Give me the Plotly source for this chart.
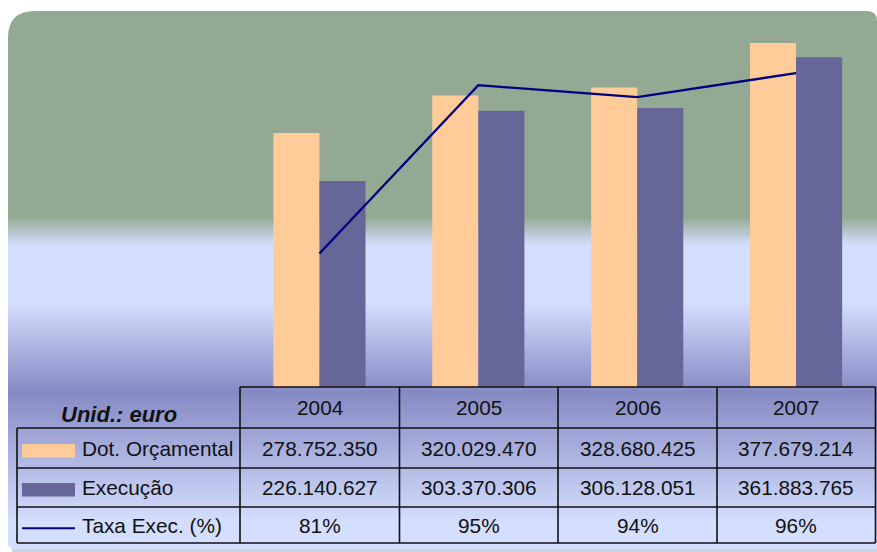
import plotly.graph_objects as go

# ---- data -------------------------------------------------------------
years = ["2004", "2005", "2006", "2007"]
dotacao = [278752350, 320029470, 328680425, 377679214]   # Dot. Orçamental (euro)
execucao = [226140627, 303370306, 306128051, 361883765]  # Execução (euro)
taxa = [81, 95, 94, 96]                                   # Taxa Exec. (%)
row_labels = ["Dot. Orçamental", "Execução", "Taxa Exec. (%)"]
unit_label = "Unid.: euro"

# ---- style ------------------------------------------------------------
ORANGE = "#FFCC99"
PURPLE = "#666699"
NAVY = "#000080"
GREEN = (148, 169, 147)
LAV = (212, 222, 254)
DARK = (133, 138, 195)
FONT = "Liberation Sans, Arial, sans-serif"
W, H = 877, 552


def px(x):
    return x / W


def py(y):
    return 1 - y / H


def rgb(c):
    return "rgb(%d,%d,%d)" % tuple(int(round(v)) for v in c)


def mix(a, b, t):
    return tuple(a[i] + (b[i] - a[i]) * t for i in range(3))


fig = go.Figure()

fig.add_trace(go.Bar(x=years, y=dotacao, name=row_labels[0],
                     marker=dict(color=ORANGE, line=dict(width=0)),
                     showlegend=False))
fig.add_trace(go.Bar(x=years, y=execucao, name=row_labels[1],
                     marker=dict(color=PURPLE, line=dict(width=0)),
                     showlegend=False))
fig.add_trace(go.Scatter(x=years, y=taxa, name=row_labels[2], yaxis="y2",
                         mode="lines", line=dict(color=NAVY, width=2.3),
                         showlegend=False))

shapes = []

# background panel: green upper part with rounded top corners
L, T, R = 8, 11, 877
green_path = (
    f"M {px(L)},{py(217)} L {px(L)},{py(T + 27)} "
    f"Q {px(L)},{py(T)} {px(L + 27)},{py(T)} "
    f"L {px(R - 10)},{py(T)} Q {px(R)},{py(T)} {px(R)},{py(T + 10)} "
    f"L {px(R)},{py(217)} Z"
)
shapes.append(dict(type="path", path=green_path, xref="paper", yref="paper",
                   fillcolor=rgb(GREEN), line=dict(width=0), layer="below"))

# vertical colour profile of the panel below the green part
stops = [(217, GREEN), (245, LAV), (302, LAV), (392, DARK), (522, LAV)]


def colour_at(y):
    for (y0, c0), (y1, c1) in zip(stops[:-1], stops[1:]):
        if y0 <= y <= y1:
            return mix(c0, c1, (y - y0) / (y1 - y0))
    return LAV


step = 2
y = 217
while y < 522:
    c = colour_at(y + step / 2)
    shapes.append(dict(type="rect", xref="paper", yref="paper",
                       x0=px(L), x1=px(R), y0=py(y + step + 0.6), y1=py(y - 0.1),
                       fillcolor=rgb(c), line=dict(width=0), layer="below"))
    y += step

# lower part with small rounded bottom-left corner
B = 549
low_path = (
    f"M {px(L)},{py(522)} L {px(L)},{py(B - 6)} "
    f"Q {px(L)},{py(B)} {px(L + 6)},{py(B)} "
    f"L {px(R)},{py(B)} L {px(R)},{py(522)} Z"
)
shapes.append(dict(type="path", path=low_path, xref="paper", yref="paper",
                   fillcolor=rgb(LAV), line=dict(width=0), layer="below"))
shapes.append(dict(type="rect", xref="paper", yref="paper",
                   x0=px(L + 4), x1=px(R), y0=py(552), y1=py(B),
                   fillcolor="rgb(203,211,228)", line=dict(width=0), layer="below"))

# ---- data table grid --------------------------------------------------
LINE = dict(color="#111111", width=1.6)
col_x = [240, 399.5, 558, 717, 875.5]
row_y = [387, 428, 468, 507, 543]
tab_left = 17


def hline(x0, x1, yy):
    shapes.append(dict(type="line", xref="paper", yref="paper",
                       x0=px(x0), x1=px(x1), y0=py(yy), y1=py(yy), line=LINE))


def vline(xx, y0, y1):
    shapes.append(dict(type="line", xref="paper", yref="paper",
                       x0=px(xx), x1=px(xx), y0=py(y0), y1=py(y1), line=LINE))


hline(col_x[0], col_x[-1], row_y[0])
for yy in row_y[1:]:
    hline(tab_left, col_x[-1], yy)
for xx in col_x:
    vline(xx, row_y[0], row_y[-1])
vline(tab_left, row_y[1], row_y[-1])

# legend keys in the row headers
key_x0, key_x1 = 22, 75
shapes.append(dict(type="rect", xref="paper", yref="paper",
                   x0=px(key_x0), x1=px(key_x1), y0=py(457.5), y1=py(444),
                   fillcolor=ORANGE, line=dict(width=0)))
shapes.append(dict(type="rect", xref="paper", yref="paper",
                   x0=px(key_x0), x1=px(key_x1), y0=py(496.5), y1=py(483),
                   fillcolor=PURPLE, line=dict(width=0)))
shapes.append(dict(type="line", xref="paper", yref="paper",
                   x0=px(key_x0), x1=px(key_x1), y0=py(528.3), y1=py(528.3),
                   line=dict(color=NAVY, width=2)))

# ---- table text -------------------------------------------------------
annotations = []
TXT = dict(family=FONT, size=20.8, color="#111111")
UNIT = dict(family=FONT, size=22, color="#111111")


def fmt_euro(v):
    return f"{v:,}".replace(",", ".")


def add_text(text, x, yy, xanchor="center", font=TXT):
    annotations.append(dict(text=text, x=px(x), y=py(yy), xref="paper",
                            yref="paper", xanchor=xanchor, yanchor="middle",
                            showarrow=False, font=font))


centres = [(col_x[i] + col_x[i + 1]) / 2 for i in range(4)]
row_mid = [(row_y[i] + row_y[i + 1]) / 2 for i in range(4)]

add_text(f"<b><i>{unit_label}</i></b>", 119, 414.5, font=UNIT)
for i, yr in enumerate(years):
    add_text(yr, centres[i], row_mid[0])
    add_text(fmt_euro(dotacao[i]), centres[i], row_mid[1])
    add_text(fmt_euro(execucao[i]), centres[i], row_mid[2])
    add_text(f"{taxa[i]}%", centres[i], row_mid[3])
for j, lab in enumerate(row_labels):
    add_text(lab, 79.5, row_mid[j + 1], xanchor="left")

fig.update_layout(
    width=W, height=H,
    margin=dict(l=0, r=0, t=0, b=0),
    paper_bgcolor="white", plot_bgcolor="rgba(0,0,0,0)",
    barmode="group", bargap=0.42, bargroupgap=0,
    xaxis=dict(domain=[px(240), px(875.5)], type="category",
               showticklabels=False, showgrid=False, zeroline=False,
               showline=False, ticks=""),
    yaxis=dict(domain=[py(387), py(22.6)], range=[0, 400e6], visible=False),
    yaxis2=dict(overlaying="y", side="right", range=[69.9, 100.2], visible=False),
    shapes=shapes, annotations=annotations,
    showlegend=False,
)

fig.write_html("out.html")
